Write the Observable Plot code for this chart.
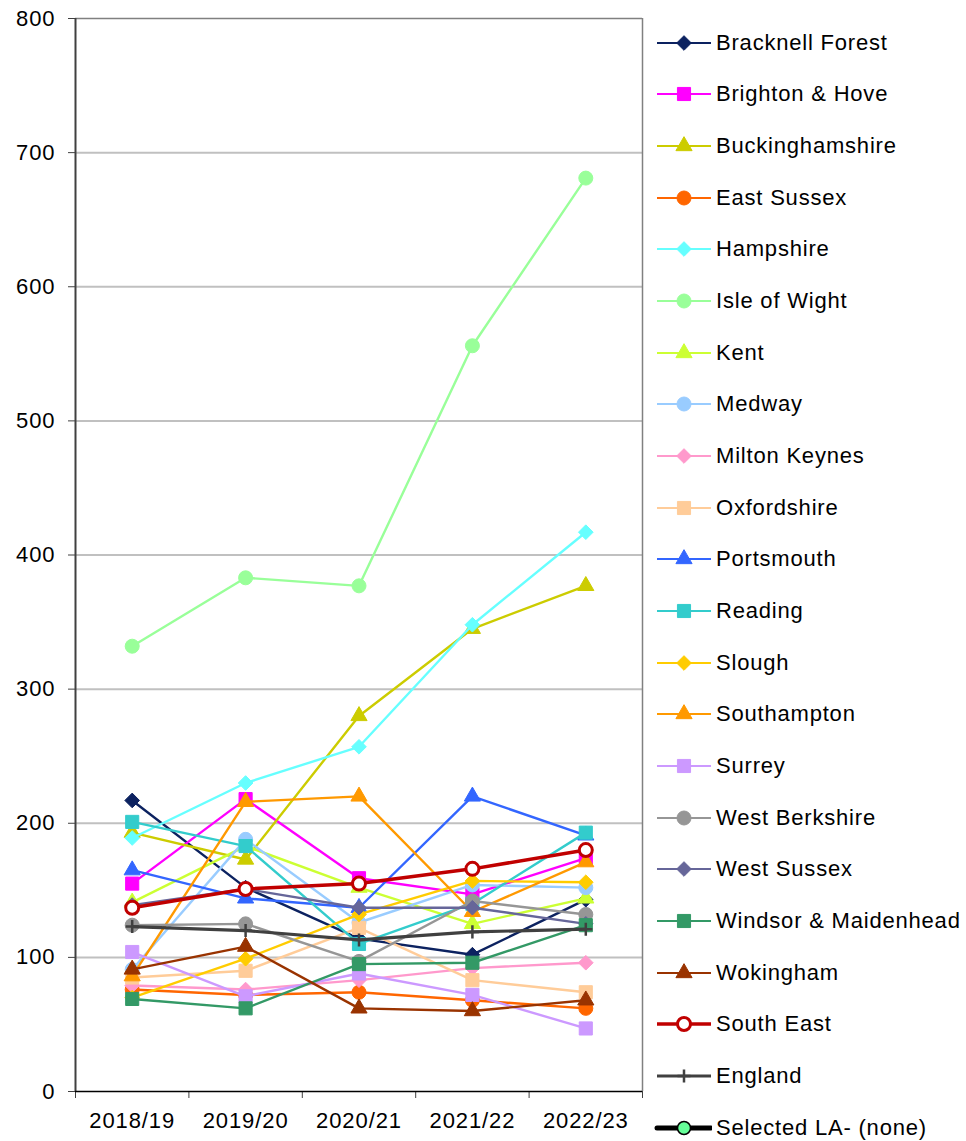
<!DOCTYPE html>
<html><head><meta charset="utf-8">
<script src="https://cdn.jsdelivr.net/npm/d3@7"></script>
<script src="https://cdn.jsdelivr.net/npm/@observablehq/plot@0.6"></script>
<style>
body{margin:0;background:#fff;font-family:"Liberation Sans",Arial,sans-serif;}
#wrap{position:relative;width:966px;height:1141px;overflow:hidden;}
#chart{position:absolute;left:0;top:0;}
#chart svg text{letter-spacing:0.9px;}
#legend{position:absolute;left:652px;top:17px;}
.item{height:51.67px;display:flex;align-items:center;font-size:22px;letter-spacing:0.8px;color:#000;white-space:nowrap;}
.item svg{margin-right:4px;display:block;}
</style></head><body><div id="wrap"><div id="chart"></div><div id="legend"></div></div>
<script>
const years = ["2018/19", "2019/20", "2020/21", "2021/22", "2022/23"];
const seriesNames = ["Bracknell Forest", "Brighton & Hove", "Buckinghamshire", "East Sussex", "Hampshire",
  "Isle of Wight", "Kent", "Medway", "Milton Keynes", "Oxfordshire", "Portsmouth", "Reading", "Slough",
  "Southampton", "Surrey", "West Berkshire", "West Sussex", "Windsor & Maidenhead", "Wokingham",
  "South East", "England"];
const yTicks = [0, 100, 200, 300, 400, 500, 600, 700, 800];

const bracknellForest   = [217, 152, 114, 102, 143];
const brightonHove      = [155, 218, 159, 147, 174];
const buckinghamshire   = [193, 173, 280, 345, 377];
const eastSussex        = [76, 72, 74, 68, 62];
const hampshire         = [189, 230, 257, 348, 417];
const isleOfWight       = [332, 383, 377, 556, 681];
const kent              = [141, 183, 152, 125, 144];
const medway            = [91, 188, 126, 154, 152];
const miltonKeynes      = [79, 76, 83, 92, 96];
const oxfordshire       = [85, 90, 122, 83, 74];
const portsmouth        = [165, 144, 137, 220, 191];
const reading           = [201, 183, 110, 140, 193];
const slough            = [70, 99, 132, 157, 156];
const southampton       = [86, 216, 220, 134, 171];
const surrey            = [104, 71, 88, 72, 47];
const westBerkshire     = [124, 125, 97, 142, 132];
const westSussex        = [139, 151, 137, 137, 125];
const windsorMaidenhead = [69, 62, 95, 96, 124];
const wokingham         = [91, 108, 62, 60, 68];
const southEast         = [137, 151, 155, 166, 180];
const england           = [123, 120, 113, 119, 121];

const seriesValues = [bracknellForest, brightonHove, buckinghamshire, eastSussex, hampshire, isleOfWight,
  kent, medway, miltonKeynes, oxfordshire, portsmouth, reading, slough, southampton, surrey, westBerkshire,
  westSussex, windsorMaidenhead, wokingham, southEast, england];

// styles
const colors = ["#0c2260", "#ff00ff", "#cccc00", "#ff6600", "#66ffff", "#99ff99", "#ccff33", "#99ccff",
  "#ff99cc", "#ffcc99", "#3366ff", "#33cccc", "#ffcc00", "#ff9900", "#cc99ff", "#969696", "#666699",
  "#339966", "#993300", "#c00000", "#404040"];
const symbols = ["diamond2", "square", "triangle", "circle", "diamond2", "circle", "triangle", "circle",
  "diamond2", "square", "triangle", "square", "diamond2", "triangle", "square", "circle", "diamond2",
  "square", "triangle", "circle", "plus"];
const symR = {diamond2: 6.6, square: 7.4, triangle: 6.0, circle: 7.0, plus: 4.3};
const d3Sym = {diamond2: d3.symbolDiamond2, square: d3.symbolSquare, triangle: d3.symbolTriangle, circle: d3.symbolCircle, plus: d3.symbolPlus};

const rows = seriesNames.flatMap((name, s) => seriesValues[s].map((v, i) => ({name, s, i, value: v})));

const marks = [
  Plot.gridY(yTicks.filter(t => t > 0 && t < 800), {stroke: "#c0c0c0", strokeOpacity: 1, strokeWidth: 2}),
  Plot.ruleY([800], {stroke: "#808080", strokeWidth: 1.5}),
  Plot.ruleX([4.5], {stroke: "#808080", strokeWidth: 1.5}),
  Plot.axisY({ticks: yTicks, tickSize: 7, tickPadding: 13, tickFormat: d => d, fontSize: 22, stroke: "#404040", color: "#000", label: null}),
  Plot.axisX({ticks: [-0.5, 0.5, 1.5, 2.5, 3.5, 4.5], tickFormat: () => "", tickSize: 7, stroke: "#404040", label: null}),
  Plot.axisX({ticks: [0, 1, 2, 3, 4], tickFormat: i => years[i], tickSize: 0, tickPadding: 21, fontSize: 22, label: null}),
  Plot.ruleX([-0.5], {stroke: "#404040", strokeWidth: 2}),
  Plot.ruleY([0], {stroke: "#000", strokeWidth: 1.5})
];

seriesNames.forEach((name, s) => {
  const data = rows.filter(d => d.s === s);
  const sym = symbols[s];
  const isSE = name === "South East";
  const isEng = name === "England";
  marks.push(Plot.line(data, {x: "i", y: "value", stroke: colors[s], strokeWidth: isSE ? 3.5 : isEng ? 3.2 : 2.4}));
  if (isSE) {
    marks.push(Plot.dot(data, {x: "i", y: "value", r: 6.5, fill: "#fff", stroke: colors[s], strokeWidth: 3}));
  } else if (isEng) {
    marks.push(Plot.dot(data, {x: "i", y: "value", symbol: "plus", r: symR.plus, stroke: colors[s], strokeWidth: 2.5}));
  } else {
    marks.push(Plot.dot(data, {x: "i", y: "value", symbol: sym, r: symR[sym], fill: colors[s], stroke: colors[s], strokeWidth: 1}));
  }
});

const chart = Plot.plot({
  width: 646, height: 1141,
  marginLeft: 75, marginRight: 4, marginTop: 18, marginBottom: 50,
  style: {fontFamily: "'Liberation Sans', Arial, sans-serif", color: "#000", background: "#fff", overflow: "visible"},
  x: {type: "linear", domain: [-0.5, 4.5], label: null},
  y: {domain: [0, 800], label: null},
  marks
});
document.getElementById("chart").appendChild(chart);

// legend
const legend = d3.select("#legend");
const legendItems = seriesNames.map((n, s) => ({name: n, color: colors[s], sym: symbols[s], kind: n === "South East" ? "se" : n === "England" ? "eng" : "std"}))
  .concat([{name: "Selected LA- (none)", color: "#000", sym: "circle", kind: "sel"}]);
legendItems.forEach(it => {
  const div = legend.append("div").attr("class", "item");
  const svg = div.append("svg").attr("width", 60).attr("height", 24);
  const lw = it.kind === "sel" ? 5 : it.kind === "se" ? 3.5 : it.kind === "eng" ? 3 : 2.2;
  svg.append("line").attr("x1", 5).attr("x2", 59).attr("y1", 12).attr("y2", 12)
    .attr("stroke", it.color).attr("stroke-width", lw).attr("stroke-linecap", it.kind === "sel" ? "round" : "butt");
  const g = svg.append("g").attr("transform", "translate(32,12)");
  if (it.kind === "se") {
    g.append("circle").attr("r", 6.5).attr("fill", "#fff").attr("stroke", it.color).attr("stroke-width", 3);
  } else if (it.kind === "sel") {
    g.append("circle").attr("r", 6.5).attr("fill", "#66ff99").attr("stroke", "#000").attr("stroke-width", 1.5);
  } else {
    const r = symR[it.sym];
    g.append("path").attr("d", d3.symbol(d3Sym[it.sym], Math.PI * r * r)())
      .attr("fill", it.kind === "eng" ? "none" : it.color).attr("stroke", it.color).attr("stroke-width", it.kind === "eng" ? 2.5 : 1);
  }
  div.append("span").text(it.name);
});
</script>
</body></html>
